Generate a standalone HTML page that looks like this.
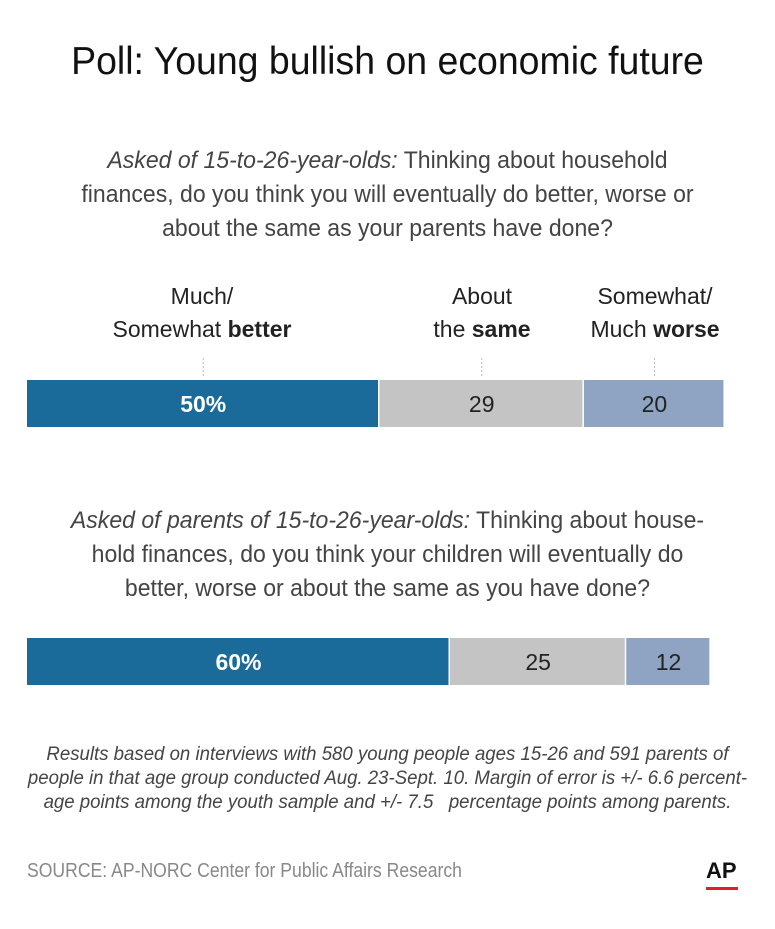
<!DOCTYPE html>
<html><head><meta charset="utf-8"><style>
body{margin:0;background:#fff;font-family:"Liberation Sans",sans-serif;color:#222}
#w{position:relative;width:775px;height:929px;overflow:hidden}
.t{position:absolute;white-space:nowrap}
.c{left:0;width:775px;text-align:center}
</style></head><body><div id="w">
<div class="t c" style="top:40px;font-size:39px;color:#111;transform:scaleX(0.96)">Poll: Young bullish on economic future</div>
<div class="t c" style="top:144px;font-size:24px;line-height:34px;color:#444;transform:scaleX(0.96)"><i>Asked of 15-to-26-year-olds:</i> Thinking about household<br>finances, do you think you will eventually do better, worse or<br>about the same as your parents have done?</div>
<div class="t" style="left:82px;width:240px;text-align:center;top:280px;font-size:23px;line-height:33px">Much/<br>Somewhat <b>better</b></div>
<div class="t" style="left:402px;width:160px;text-align:center;top:280px;font-size:23px;line-height:33px">About<br>the <b>same</b></div>
<div class="t" style="left:570px;width:170px;text-align:center;top:280px;font-size:23px;line-height:33px">Somewhat/<br>Much <b>worse</b></div>
<svg id="s" width="775" height="929" style="position:absolute;left:0;top:0"></svg>
<div class="t c" style="top:504px;font-size:24px;line-height:34px;color:#444;transform:scaleX(0.96)"><i>Asked of parents of 15-to-26-year-olds:</i> Thinking about house-<br>hold finances, do you think your children will eventually do<br>better, worse or about the same as you have done?</div>
<div class="t c" style="top:743px;font-size:19px;line-height:24px;font-style:italic;color:#444;transform:scaleX(0.98)">Results based on interviews with 580 young people ages 15-26 and 591 parents of<br>people in that age group conducted Aug. 23-Sept. 10. Margin of error is +/- 6.6 percent-<br>age points among the youth sample and +/- 7.5&nbsp;&nbsp; percentage points among parents.</div>
<div class="t" style="left:27px;top:860px;font-size:20px;color:#888;transform:scaleX(0.88);transform-origin:left">SOURCE: AP-NORC Center for Public Affairs Research</div>
<div class="t" style="left:706px;top:858px;font-size:22px;font-weight:bold;color:#111">AP</div>
<div class="t" style="left:706px;top:887px;width:32px;height:3px;background:#d22"></div>
</div>
<script>
const groups=["youth","parents"];
const better=[50,60];
const same=[29,25];
const worse=[20,12];
const labels=[["50%","29","20"],["60%","25","12"]];
const x0=27,k=7.05,tops=[380,638],h=47;
const colors=["#1a6a9a","#c4c4c4","#8ea4c2"];
const tcol=["#fff","#222","#222"];
const s=document.getElementById('s');
const NS="http://www.w3.org/2000/svg";
function xs(v){return v*k;}
groups.forEach((g,i)=>{
  const vals=[better[i],same[i],worse[i]];
  let x=x0;
  vals.forEach((v,j)=>{
    const r=document.createElementNS(NS,'rect');
    
    
    r.setAttribute('x',x);r.setAttribute('y',tops[i]);
    r.setAttribute('width',xs(v)-1.5);r.setAttribute('height',h);
    r.setAttribute('fill',colors[j]);s.appendChild(r);
    const t=document.createElementNS(NS,'text');
    
    
    t.setAttribute('x',x+xs(v)/2);t.setAttribute('y',tops[i]+32);
    t.setAttribute('text-anchor','middle');t.setAttribute('font-size','23');
    t.setAttribute('fill',tcol[j]);if(j==0)t.setAttribute('font-weight','bold');
    t.textContent=labels[i][j];s.appendChild(t);
    if(i==0){
      const l=document.createElementNS(NS,'line');
      
      
      l.setAttribute('x1',x+xs(v)/2);l.setAttribute('x2',x+xs(v)/2);
      l.setAttribute('y1',358);l.setAttribute('y2',378);
      l.setAttribute('stroke','#bbb');l.setAttribute('stroke-dasharray','2,2');
      s.appendChild(l);
    }
    x+=xs(v);
  });
});
</script></body></html>
